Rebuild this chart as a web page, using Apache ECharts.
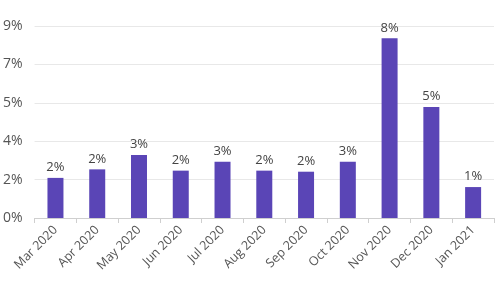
<!DOCTYPE html>
<html><head><meta charset="utf-8">
<script src="https://cdn.jsdelivr.net/npm/echarts@6/dist/echarts.min.js"></script>
<style>html,body{margin:0;padding:0;background:#fff}#c{width:500px;height:300px}</style>
</head><body><div id="c"></div>
<script>
const categories = ['Mar 2020','Apr 2020','May 2020','Jun 2020','Jul 2020','Aug 2020','Sep 2020','Oct 2020','Nov 2020','Dec 2020','Jan 2021'];
const values = [1.88, 2.28, 2.95, 2.22, 2.64, 2.22, 2.17, 2.64, 8.42, 5.2, 1.45];
const yTicks = [0, 1.8, 3.6, 5.4, 7.2, 9];
const chart = echarts.init(document.getElementById('c'));
chart.setOption({
  animation: false,
  grid: {left: 34, right: 6, top: 26, bottom: 82},
  xAxis: {
    type: 'category', data: categories,
    axisLine: {lineStyle: {color: '#cfcfcf'}},
    axisTick: {show: true, lineStyle: {color: '#cfcfcf'}},
    axisLabel: {rotate: 45, color: '#555', fontSize: 12.5, fontFamily: 'Open Sans', margin: 10}
  },
  yAxis: {
    type: 'value', min: yTicks[0], max: yTicks[yTicks.length - 1], interval: yTicks[1] - yTicks[0],
    axisLine: {show: false}, axisTick: {show: false},
    splitLine: {lineStyle: {color: '#e8e8e8'}},
    axisLabel: {color: '#555', fontSize: 14, fontFamily: 'Open Sans', margin: 12,
      formatter: v => Math.round(v) + '%'}
  },
  series: [{
    type: 'bar', data: values, barWidth: 16,
    itemStyle: {color: '#5a45b6'},
    label: {show: true, position: 'top', distance: 4, color: '#444', fontSize: 13, fontFamily: 'Open Sans',
      formatter: p => Math.round(p.value) + '%'}
  }]
});
</script></body></html>
